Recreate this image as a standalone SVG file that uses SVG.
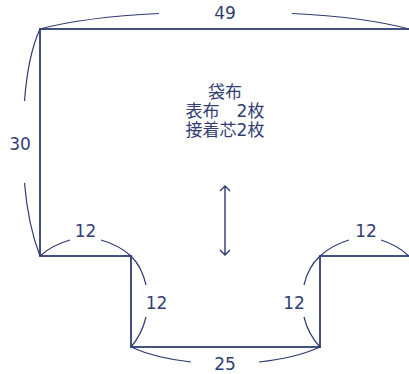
<svg xmlns="http://www.w3.org/2000/svg" width="409" height="374" viewBox="0 0 409 374">
<style>
.o{fill:none;stroke:#44507f;stroke-width:2}
.c{fill:none;stroke:#2f3a72;stroke-width:1.2}
.a{fill:none;stroke:#2f3a72;stroke-width:1.4}
text{font-family:"DejaVu Sans","Noto Sans CJK JP",sans-serif;font-size:17px;fill:#333d73;text-anchor:middle}
</style>
<rect width="409" height="374" fill="#fff"/>
<g id="outline"><path class="o" d="M409 29H40V256H131V347H320V256H409"/></g>
<g id="connectors">
<path class="c" d="M40 29Q85 17 159 13.500"/>
<path class="c" d="M409 29Q364 17 292 13.500"/>
<path class="c" d="M40 29Q28 55 24.500 101"/>
<path class="c" d="M40 256Q28 225 24.500 183"/>
<path class="c" d="M40 256Q52 245 70 240"/>
<path class="c" d="M131 256Q119 245 101 240"/>
<path class="c" d="M320 256Q332 245 349 240"/>
<path class="c" d="M409 256Q397 245 381 240"/>
<path class="c" d="M131 256Q142 267 146 285"/>
<path class="c" d="M131 347Q142 334 146 317"/>
<path class="c" d="M320 256Q308 267 304 285"/>
<path class="c" d="M320 347Q308 334 304 317"/>
<path class="c" d="M131 347Q155 358 191 362"/>
<path class="c" d="M320 347Q296 358 259 362"/>
<path class="a" d="M225 186V255M220 191L225 186L230 191M220 250L225 255L230 250"/>
</g>
<g id="labels">
<text x="225" y="19">49</text>
<text x="20" y="150">30</text>
<text x="85.500" y="237">12</text>
<text x="156.500" y="309">12</text>
<text x="294" y="309">12</text>
<text x="366" y="237">12</text>
<text x="225" y="370">25</text>
<text x="225" y="98">袋布</text>
<text x="225" y="117">表布　2枚</text>
<text x="225" y="136">接着芯2枚</text>
</g>
</svg>
